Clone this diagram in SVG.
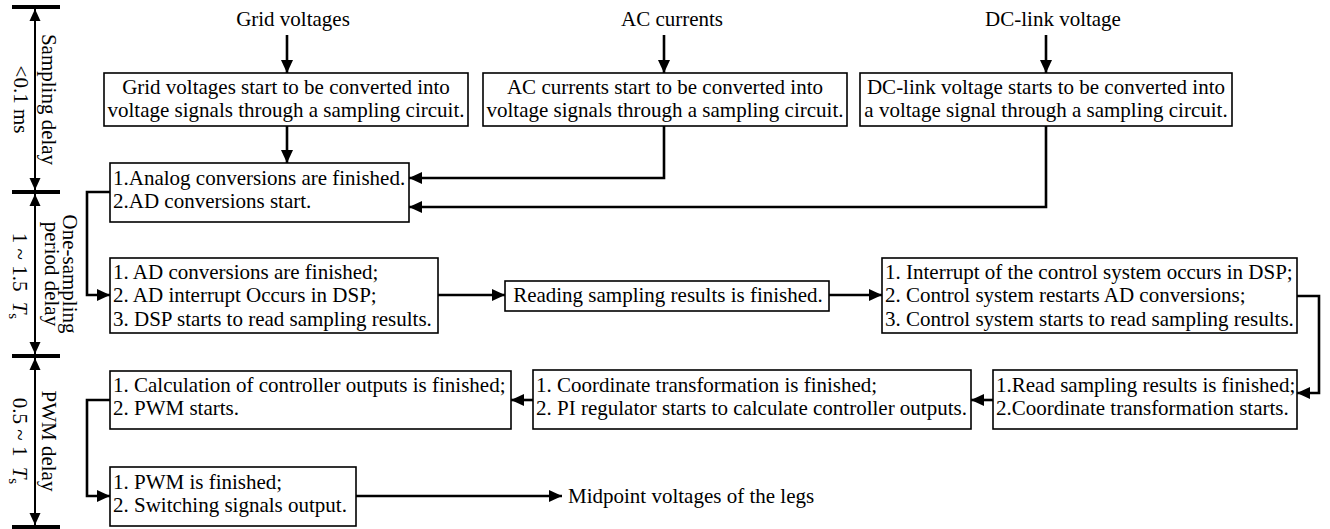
<svg xmlns="http://www.w3.org/2000/svg" width="1330" height="529" viewBox="0 0 1330 529">
<style>
text{font-family:"Liberation Serif","Times New Roman",serif;font-size:21px;fill:#000}
.box{fill:#fff;stroke:#000;stroke-width:1.6}
.c{text-anchor:middle}
.ln{fill:none;stroke:#000;stroke-width:2.6}
.ax{fill:none;stroke:#000;stroke-width:2}
.bar{stroke:#000;stroke-width:4}
.it{font-style:italic}
.sub{font-size:15px}
</style>
<defs>
<marker id="ah" markerUnits="userSpaceOnUse" markerWidth="13" markerHeight="12" refX="13" refY="6" orient="auto">
<path d="M0,0 L13,6 L0,12 z" fill="#000"/>
</marker>
<marker id="ax" markerUnits="userSpaceOnUse" markerWidth="12" markerHeight="12" refX="12" refY="6" orient="auto-start-reverse">
<path d="M0,0.5 L12,6 L0,11.5 z" fill="#000"/>
</marker>
</defs>

<g id="time-axis">
<line class="bar" x1="12" y1="7" x2="60" y2="7"/>
<line class="bar" x1="12" y1="192" x2="60" y2="192"/>
<line class="bar" x1="12" y1="356" x2="60" y2="356"/>
<line class="bar" x1="12" y1="527" x2="60" y2="527"/>
<line class="ax" x1="35" y1="9" x2="35" y2="190" marker-start="url(#ax)" marker-end="url(#ax)"/>
<line class="ax" x1="35" y1="194" x2="35" y2="354" marker-start="url(#ax)" marker-end="url(#ax)"/>
<line class="ax" x1="35" y1="358" x2="35" y2="525" marker-start="url(#ax)" marker-end="url(#ax)"/>
<text class="c" transform="translate(42,99.5) rotate(90)">Sampling delay</text>
<text class="c" transform="translate(14,99.5) rotate(90)">&lt;0.1 ms</text>
<text class="c" transform="translate(63,274) rotate(90)"><tspan x="0" y="0">One-sampling</tspan><tspan x="0" dy="18">period delay</tspan></text>
<text class="c" transform="translate(13,276) rotate(90)">1 ~ 1.5 <tspan class="it" dx="5">T</tspan><tspan class="sub" dy="4">s</tspan></text>
<text class="c" transform="translate(42,441) rotate(90)">PWM delay</text>
<text class="c" transform="translate(13,441) rotate(90)">0.5 ~ 1 <tspan class="it" dx="5">T</tspan><tspan class="sub" dy="4">s</tspan></text>
</g>

<g id="input-grid"><text class="c" x="293" y="26">Grid voltages</text></g>
<g id="input-ac"><text class="c" x="672" y="26">AC currents</text></g>
<g id="input-dc"><text class="c" x="1053" y="26">DC-link voltage</text></g>

<g id="box-grid">
<rect class="box" x="104" y="73" width="364" height="53"/>
<text class="c"><tspan x="286" y="93.5">Grid voltages start to be converted into</tspan><tspan x="286" y="117">voltage signals through a sampling circuit.</tspan></text>
</g>
<g id="box-ac">
<rect class="box" x="483" y="73" width="364" height="53"/>
<text class="c"><tspan x="665" y="93.5">AC currents start to be converted into</tspan><tspan x="665" y="117">voltage signals through a sampling circuit.</tspan></text>
</g>
<g id="box-dc">
<rect class="box" x="860" y="73" width="372" height="53"/>
<text class="c"><tspan x="1046" y="93.5">DC-link voltage starts to be converted into</tspan><tspan x="1046" y="117">a voltage signal through a sampling circuit.</tspan></text>
</g>

<g id="box-analog">
<rect class="box" x="110" y="163" width="299" height="59"/>
<text><tspan x="113" y="184.5">1.Analog conversions are finished.</tspan><tspan x="113" y="208">2.AD conversions start.</tspan></text>
</g>

<g id="box-ad">
<rect class="box" x="110" y="258" width="328" height="75"/>
<text><tspan x="113" y="278.5">1. AD conversions are finished;</tspan><tspan x="113" y="302">2. AD interrupt Occurs in DSP;</tspan><tspan x="113" y="325.5">3. DSP starts to read sampling results.</tspan></text>
</g>

<g id="box-reading">
<rect class="box" x="505" y="281" width="324" height="30"/>
<text class="c" x="668" y="302">Reading sampling results is finished.</text>
</g>

<g id="box-interrupt">
<rect class="box" x="882" y="258" width="415" height="75"/>
<text><tspan x="885" y="278.5">1. Interrupt of the control system occurs in DSP;</tspan><tspan x="885" y="302">2. Control system restarts AD conversions;</tspan><tspan x="885" y="325.5">3. Control system starts to read sampling results.</tspan></text>
</g>

<g id="box-read">
<rect class="box" x="993" y="370" width="304" height="59"/>
<text><tspan x="996" y="391.5">1.Read sampling results is finished;</tspan><tspan x="996" y="415">2.Coordinate transformation starts.</tspan></text>
</g>

<g id="box-coord">
<rect class="box" x="533" y="370" width="438" height="59"/>
<text><tspan x="536" y="391.5">1. Coordinate transformation is finished;</tspan><tspan x="536" y="415">2. PI regulator starts to calculate controller outputs.</tspan></text>
</g>

<g id="box-calc">
<rect class="box" x="110" y="371" width="401" height="58"/>
<text><tspan x="113" y="391.5">1. Calculation of controller outputs is finished;</tspan><tspan x="113" y="415">2. PWM starts.</tspan></text>
</g>

<g id="box-pwm">
<rect class="box" x="110" y="467" width="246" height="59"/>
<text><tspan x="113" y="488.5">1. PWM is finished;</tspan><tspan x="113" y="512">2. Switching signals output.</tspan></text>
</g>

<g id="output-midpoint"><text x="568" y="503">Midpoint voltages of the legs</text></g>

<g id="connectors">
<line class="ln" x1="287" y1="35" x2="287" y2="73" marker-end="url(#ah)"/>
<line class="ln" x1="664" y1="35" x2="664" y2="73" marker-end="url(#ah)"/>
<line class="ln" x1="1046" y1="35" x2="1046" y2="73" marker-end="url(#ah)"/>
<line class="ln" x1="287" y1="126" x2="287" y2="163" marker-end="url(#ah)"/>
<polyline class="ln" points="664,126 664,178 409,178" marker-end="url(#ah)"/>
<polyline class="ln" points="1046,126 1046,207 409,207" marker-end="url(#ah)"/>
<polyline class="ln" points="110,192 87,192 87,295 110,295" marker-end="url(#ah)"/>
<line class="ln" x1="438" y1="295" x2="505" y2="295" marker-end="url(#ah)"/>
<line class="ln" x1="829" y1="295" x2="882" y2="295" marker-end="url(#ah)"/>
<polyline class="ln" points="1297,296 1319,296 1319,393 1297,393" marker-end="url(#ah)"/>
<line class="ln" x1="993" y1="400" x2="971" y2="400" marker-end="url(#ah)"/>
<line class="ln" x1="533" y1="400" x2="511" y2="400" marker-end="url(#ah)"/>
<polyline class="ln" points="110,400 87,400 87,496 110,496" marker-end="url(#ah)"/>
<line class="ln" x1="356" y1="496" x2="562" y2="496" marker-end="url(#ah)"/>
</g>
</svg>
